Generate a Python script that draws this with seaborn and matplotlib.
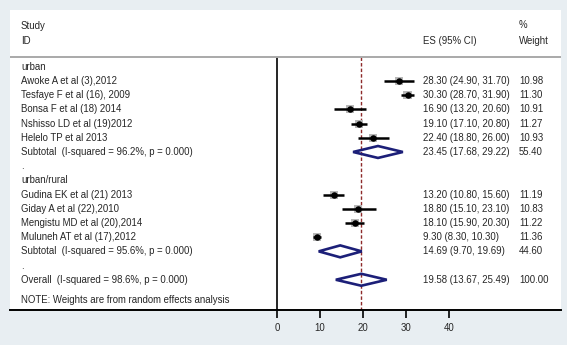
import pandas as pd
import seaborn as sns
import matplotlib.pyplot as plt
import matplotlib.transforms as mtransforms
from matplotlib.patches import Polygon

sns.set_theme(style='ticks')
plt.rcParams['font.family'] = ['Liberation Sans', 'DejaVu Sans']

# 데이터
groups = ['urban', 'urban/rural']

urban_studies = ['Awoke A et al (3),2012', 'Tesfaye F et al (16), 2009', 'Bonsa F et al (18) 2014',
                 'Nshisso LD et al (19)2012', 'Helelo TP et al 2013']
urban_es = [28.30, 30.30, 16.90, 19.10, 22.40]
urban_lo = [24.90, 28.70, 13.20, 17.10, 18.80]
urban_hi = [31.70, 31.90, 20.60, 20.80, 26.00]
urban_w = [10.98, 11.30, 10.91, 11.27, 10.93]

rural_studies = ['Gudina EK et al (21) 2013', 'Giday A et al (22),2010', 'Mengistu MD et al (20),2014',
                 'Muluneh AT et al (17),2012']
rural_es = [13.20, 18.80, 18.10, 9.30]
rural_lo = [10.80, 15.10, 15.90, 8.30]
rural_hi = [15.60, 23.10, 20.30, 10.30]
rural_w = [11.19, 10.83, 11.22, 11.36]

subtotal_i2 = ['96.2%', '95.6%']
subtotal_es = [23.45, 14.69]
subtotal_lo = [17.68, 9.70]
subtotal_hi = [29.22, 19.69]
subtotal_w = [55.40, 44.60]

overall_i2 = '98.6%'
overall_es = 19.58
overall_lo = 13.67
overall_hi = 25.49
overall_w = 100.00

x_ticks = [0, 10, 20, 30, 40]

# 행 구성
group_data = [
    (urban_studies, urban_es, urban_lo, urban_hi, urban_w),
    (rural_studies, rural_es, rural_lo, rural_hi, rural_w),
]
rows = []
for g, (names, es, lo, hi, w) in enumerate(group_data):
    rows.append(dict(label=groups[g], kind='head'))
    for i in range(len(names)):
        rows.append(dict(label=names[i], es=es[i], lo=lo[i], hi=hi[i], w=w[i], kind='study'))
    rows.append(dict(label=f'Subtotal  (I-squared = {subtotal_i2[g]}, p = 0.000)',
                     es=subtotal_es[g], lo=subtotal_lo[g], hi=subtotal_hi[g], w=subtotal_w[g], kind='pooled'))
    rows.append(dict(label='.', kind='blank'))
rows.append(dict(label=f'Overall  (I-squared = {overall_i2}, p = 0.000)',
                 es=overall_es, lo=overall_lo, hi=overall_hi, w=overall_w, kind='pooled'))
df = pd.DataFrame(rows)
df['row'] = range(len(df))
studies = df[df['kind'] == 'study']
pooled = df[df['kind'] == 'pooled']

# 레이아웃
bg = '#e8eef2'
y_top, y_bottom = -4.0, 17.13
sep_y = -0.69
fs = 6.9

fig = plt.figure(figsize=(5.67, 3.45), dpi=100, facecolor=bg)
ax = fig.add_axes([10 / 567, 35 / 345, 551 / 567, 300 / 345])
ax.set_facecolor('white')
ax.set_xlim(-61.9, 65.9)
ax.set_ylim(y_bottom, y_top)

# 가중치 상자
wmin, wmax = studies['w'].min(), studies['w'].max()
sns.scatterplot(data=studies, x='es', y='row', size='w', sizes=(wmin * 3.0, wmax * 3.0),
                marker='s', color='#b8b8b8', linewidth=0, legend=False, ax=ax, zorder=2)
ax.hlines(studies['row'], studies['lo'], studies['hi'], colors='black', lw=1.8, zorder=3)
sns.scatterplot(data=studies, x='es', y='row', color='black', s=22, marker='o',
                linewidth=0, legend=False, ax=ax, zorder=4)

# 다이아몬드
h = 0.42
for _, r in pooled.iterrows():
    ax.add_patch(Polygon([(r['lo'], r['row']), (r['es'], r['row'] - h),
                          (r['hi'], r['row']), (r['es'], r['row'] + h)],
                         closed=True, fill=False, edgecolor='#1c1f78', lw=1.9, zorder=4))

# 기준선
ax.vlines(0, sep_y, y_bottom, colors='black', lw=1.2, zorder=1)
ax.vlines(overall_es, sep_y, y_bottom, colors='#8e2a2a', lw=1.0,
          linestyles=(0, (2.5, 1.5)), zorder=1)
ax.axhline(sep_y, color='#a9a9a9', lw=1.4)

# 텍스트
tr = mtransforms.blended_transform_factory(ax.transAxes, ax.transData)
x_lab, x_es, x_w = 0.02, 0.7495, 0.924
ax.text(x_lab, -2.87, 'Study', transform=tr, fontsize=fs, va='center')
ax.text(x_lab, -1.82, 'ID', transform=tr, fontsize=fs, va='center')
ax.text(x_es, -1.82, 'ES (95% CI)', transform=tr, fontsize=fs, va='center')
ax.text(x_w, -2.94, '%', transform=tr, fontsize=fs, va='center')
ax.text(x_w, -1.82, 'Weight', transform=tr, fontsize=fs, va='center')
for _, r in df.iterrows():
    ax.text(x_lab, r['row'], r['label'], transform=tr, fontsize=fs, va='center')
    if r['kind'] in ('study', 'pooled'):
        ax.text(x_es, r['row'], f"{r['es']:.2f} ({r['lo']:.2f}, {r['hi']:.2f})",
                transform=tr, fontsize=fs, va='center')
        ax.text(x_w, r['row'], f"{r['w']:.2f}", transform=tr, fontsize=fs, va='center')
ax.text(x_lab, 16.4, 'NOTE: Weights are from random effects analysis', transform=tr,
        fontsize=fs, va='center')

# 축
for s in ['top', 'left', 'right']:
    ax.spines[s].set_visible(False)
ax.spines['bottom'].set_color('black')
ax.spines['bottom'].set_linewidth(1.4)
ax.set_yticks([])
ax.set_xticks(x_ticks)
ax.tick_params(axis='x', bottom=True, direction='out', length=5.5, width=1.2,
               labelsize=fs, pad=4, color='black')
ax.set_xlabel('')
ax.set_ylabel('')

fig.savefig('out.png', dpi=100, facecolor=bg)
